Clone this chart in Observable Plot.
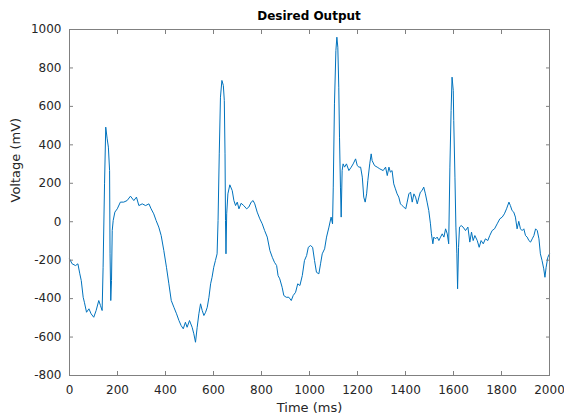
<!DOCTYPE html>
<html>
<head>
<meta charset="utf-8">
<script src="https://cdn.jsdelivr.net/npm/d3@7"></script>
<script src="https://cdn.jsdelivr.net/npm/@observablehq/plot@0.6"></script>
<style>
  body { margin: 0; background: #fff; }
  #wrap { width: 564px; height: 417px; overflow: hidden; font-family: "DejaVu Sans", "Liberation Sans", Arial, sans-serif; }
  #title { margin-left: 69px; width: 480px; height: 20px; line-height: 32px; text-align: center;
           font-weight: bold; font-size: 12px; color: #000; white-space: nowrap; overflow: visible; }
</style>
</head>
<body>
<div id="wrap">
  <div id="title">Desired Output</div>
  <div id="chart"></div>
</div>
<script>
const titleText = "Desired Output";
const xLabel = "Time (ms)";
const yLabel = "Voltage (mV)";
const xTicks = [0, 200, 400, 600, 800, 1000, 1200, 1400, 1600, 1800, 2000];
const yTicks = [-800, -600, -400, -200, 0, 200, 400, 600, 800, 1000];

const timeMs = [
  0,11,25,35,43,49,57,62,71,81,
  90,101,111,122,129,136,140,146,151,157,
  162,167,169,172,175,178,182,189,199,212,
  226,240,254,268,279,289,303,317,331,340,
  351,361,372,382,393,404,414,424,435,446,
  456,465,474,483,490,500,511,518,525,532,
  539,546,553,560,567,574,581,588,594,601,
  608,615,619,624,629,635,641,645,648,650,
  652,655,660,668,678,685,692,699,706,715,
  726,738,747,757,765,772,782,793,803,813,
  824,835,845,854,863,869,876,886,893,903,
  914,924,932,942,951,960,970,979,988,995,
  1004,1013,1021,1029,1039,1046,1053,1063,1071,1081,
  1090,1096,1099,1104,1110,1114,1118,1122,1125,1129,
  1132,1136,1140,1146,1154,1164,1174,1182,1192,1199,
  1206,1213,1220,1226,1232,1238,1243,1251,1257,1261,
  1271,1282,1293,1307,1317,1324,1331,1337,1344,1351,
  1358,1365,1372,1379,1386,1393,1401,1407,1414,1421,
  1428,1435,1442,1449,1456,1462,1469,1476,1483,1490,
  1497,1504,1508,1514,1518,1525,1532,1539,1546,1553,
  1560,1567,1574,1580,1585,1590,1594,1599,1601,1606,
  1610,1614,1617,1621,1625,1632,1640,1650,1660,1668,
  1675,1682,1689,1699,1707,1715,1724,1733,1743,1751,
  1761,1771,1782,1793,1803,1812,1821,1831,1837,1844,
  1851,1858,1865,1872,1879,1886,1893,1900,1907,1914,
  1921,1928,1935,1942,1949,1956,1962,1969,1976,1981,
  1986,1993,2000
];
const voltageMv = [
  -193,-219,-228,-219,-271,-306,-393,-419,-471,-453,
  -479,-497,-462,-410,-436,-462,-237,197,492,431,
  388,266,-167,-410,-306,-46,6,50,67,102,
  102,110,133,110,128,84,93,84,93,67,
  41,6,-28,-72,-150,-237,-323,-410,-445,-479,
  -514,-540,-557,-523,-549,-514,-549,-583,-627,-549,
  -479,-427,-462,-488,-471,-445,-393,-323,-289,-237,
  -202,-167,6,353,648,735,709,631,353,6,
  -167,41,145,192,162,110,84,102,67,96,
  84,67,76,102,110,93,50,15,-11,-46,
  -80,-150,-185,-211,-228,-280,-297,-341,-384,-393,
  -393,-410,-384,-367,-323,-332,-280,-202,-176,-133,
  -124,-133,-202,-263,-271,-219,-167,-141,-80,-28,
  24,-11,180,613,891,960,908,700,440,180,
  24,266,301,284,301,266,284,301,327,292,
  284,284,232,128,102,145,214,301,353,318,
  292,284,275,266,284,240,284,258,266,197,
  171,145,128,93,84,76,67,102,145,154,
  102,145,128,93,128,154,162,180,145,102,
  58,-11,-63,-115,-80,-89,-80,-98,-80,-63,
  -80,-37,-63,-115,284,579,752,683,527,232,
  -28,-167,-349,-133,-28,-20,-28,-46,-28,-106,
  -54,-98,-72,-98,-133,-98,-115,-89,-98,-72,
  -46,-37,-11,15,24,41,67,102,84,58,
  50,24,-37,2,-37,-46,-37,-72,-80,-98,
  -106,-89,-72,-37,-46,-89,-167,-202,-245,-289,
  -237,-185,-167
];

const data = timeMs.map((t, i) => ({t, v: voltageMv[i]}));
document.getElementById("title").textContent = titleText;

const axisColor = "#808080";
const fmt = d => String(d);
const chart = Plot.plot({
  width: 564,
  height: 397,
  marginTop: 9,
  marginBottom: 42,
  marginLeft: 69,
  marginRight: 15,
  style: {fontFamily: '"DejaVu Sans", "Liberation Sans", Arial, sans-serif', fontSize: "12px", color: "#262626", background: "#fff", overflow: "visible"},
  x: {domain: [0, 2000]},
  y: {domain: [-800, 1000]},
  marks: [
    Plot.line(data, {x: "t", y: "v", stroke: "#0072BD", strokeWidth: 1}),
    Plot.frame({stroke: axisColor}),
    Plot.axisX(xTicks, {anchor: "bottom", tickSize: -4, tickPadding: 14, tickFormat: fmt, label: null, stroke: axisColor}),
    Plot.axisX(xTicks, {anchor: "top", tickSize: -4, tickFormat: () => "", label: null, stroke: axisColor}),
    Plot.axisY(yTicks, {anchor: "left", tickSize: -4, tickPadding: 12, tickFormat: fmt, label: null, stroke: axisColor}),
    Plot.axisY(yTicks, {anchor: "right", tickSize: -4, tickFormat: () => "", label: null, stroke: axisColor}),
    Plot.text([xLabel], {frameAnchor: "bottom", dy: 36, fontSize: 13, fill: "#262626"}),
    Plot.text([yLabel], {frameAnchor: "left", dx: -54, rotate: -90, fontSize: 13, fill: "#262626"})
  ]
});
document.getElementById("chart").appendChild(chart);
</script>
</body>
</html>
